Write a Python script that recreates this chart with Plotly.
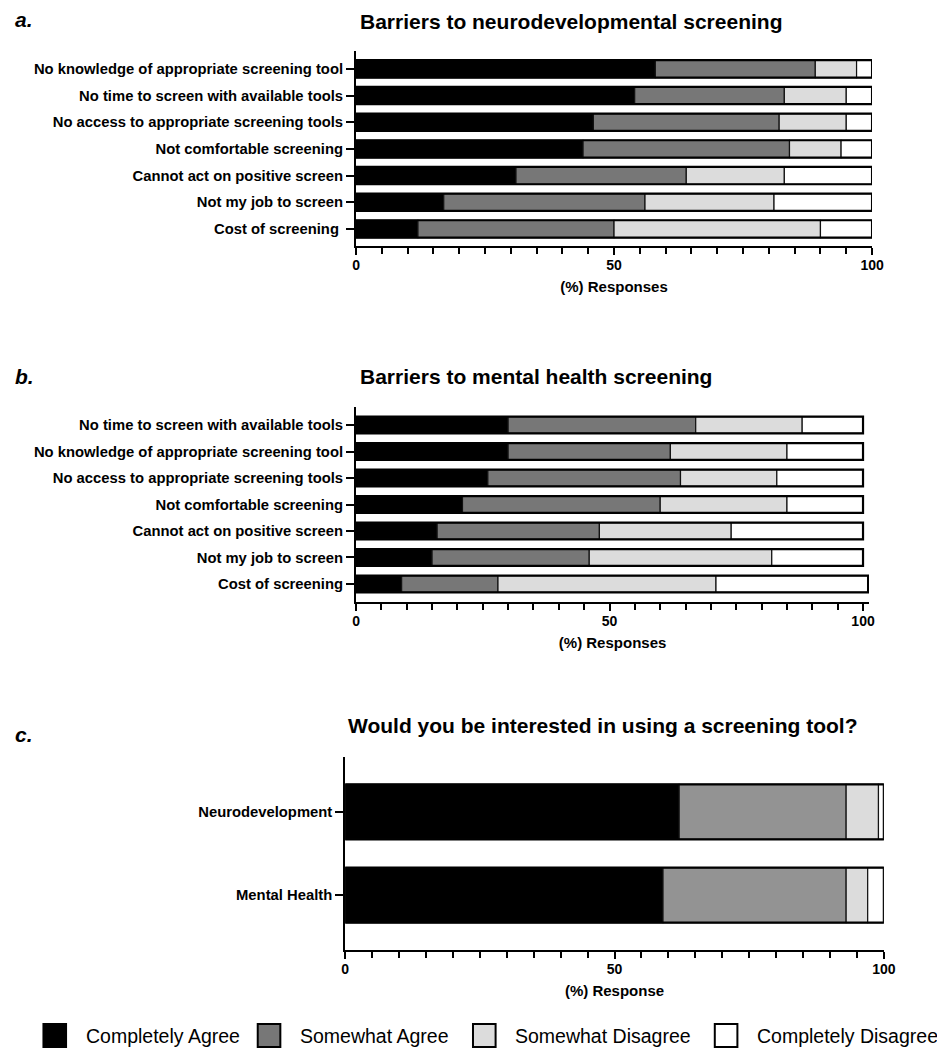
import plotly.graph_objects as go

# page has an 8px body margin; figure sized to fit the 945x1050 window
OFF = 8
W, H = 945 - OFF, 1050 - OFF

series_names = ["Completely Agree", "Somewhat Agree", "Somewhat Disagree", "Completely Disagree"]

a_cats = ["No knowledge of appropriate screening tool", "No time to screen with available tools",
          "No access to appropriate screening tools", "Not comfortable screening",
          "Cannot act on positive screen", "Not my job to screen", "Cost of screening "]
a_completely_agree = [58, 54, 46, 44, 31, 17, 12]
a_somewhat_agree = [31, 29, 36, 40, 33, 39, 38]
a_somewhat_disagree = [8, 12, 13, 10, 19, 25, 40]
a_completely_disagree = [3, 5, 5, 6, 17, 19, 10]

b_cats = ["No time to screen with available tools", "No knowledge of appropriate screening tool",
          "No access to appropriate screening tools", "Not comfortable screening",
          "Cannot act on positive screen", "Not my job to screen", "Cost of screening"]
b_completely_agree = [30, 30, 26, 21, 16, 15, 9]
b_somewhat_agree = [37, 32, 38, 39, 32, 31, 19]
b_somewhat_disagree = [21, 23, 19, 25, 26, 36, 43]
b_completely_disagree = [12, 15, 17, 15, 26, 18, 30]

c_cats = ["Neurodevelopment", "Mental Health"]
c_completely_agree = [62, 59]
c_somewhat_agree = [31, 34]
c_somewhat_disagree = [6, 4]
c_completely_disagree = [1, 3]

x_ticks = [0, 50, 100]

colors_ab = ["#000000", "#777777", "#dcdcdc", "#ffffff"]
colors_c = ["#000000", "#939393", "#dcdcdc", "#ffffff"]

FONT = "Liberation Sans, Arial, sans-serif"

fig = go.Figure()


def add_panel(cats, series, colors, xa, ya, width):
    n = len(cats)
    cum = [0] * n
    for name, vals, col in zip(series_names, series, colors):
        fig.add_trace(go.Bar(
            y=cats, x=vals, base=list(cum), orientation="h", name=name,
            marker=dict(color=col, line=dict(color="#111111", width=1.2)),
            width=width, xaxis=xa, yaxis=ya, showlegend=False,
        ))
        cum = [c + v for c, v in zip(cum, vals)]
    # outer outline of each stacked bar
    fig.add_trace(go.Bar(
        y=cats, x=cum, base=[0] * n, orientation="h",
        marker=dict(color="rgba(0,0,0,0)", line=dict(color="#000000", width=2.2)),
        width=width, xaxis=xa, yaxis=ya, showlegend=False, hoverinfo="skip",
    ))


add_panel(a_cats, [a_completely_agree, a_somewhat_agree, a_somewhat_disagree, a_completely_disagree],
          colors_ab, "x", "y", 0.65)
add_panel(b_cats, [b_completely_agree, b_somewhat_agree, b_somewhat_disagree, b_completely_disagree],
          colors_ab, "x2", "y2", 0.63)
add_panel(c_cats, [c_completely_agree, c_somewhat_agree, c_somewhat_disagree, c_completely_disagree],
          colors_c, "x3", "y3", 0.66)


def px_x(p):
    return (p - OFF) / W


def px_y(p):
    return 1 - (p - OFF) / H


def xaxis_cfg(x0, x1, rng, title, anchor):
    return dict(
        domain=[px_x(x0), px_x(x1)], range=rng, anchor=anchor,
        tickvals=x_ticks, ticktext=["<b>%d</b>" % t for t in x_ticks],
        ticks="outside", ticklen=7, tickwidth=1.8, tickcolor="black",
        ticklabelstandoff=-2,
        minor=dict(dtick=5, ticks="outside", ticklen=6, tickwidth=1.5, tickcolor="black"),
        showline=True, linecolor="black", linewidth=2, showgrid=False, zeroline=False,
        tickfont=dict(family=FONT, size=14, color="black"),
        title=dict(text="<b>" + title + "</b>", font=dict(family=FONT, size=15, color="black"), standoff=10),
        fixedrange=True,
    )


def yaxis_cfg(y_top, y_bot, rng, anchor):
    return dict(
        domain=[px_y(y_bot), px_y(y_top)], range=rng, type="category", anchor=anchor,
        ticks="outside", ticklen=8, tickwidth=1.8, tickcolor="black",
        showline=True, linecolor="black", linewidth=2, showgrid=False, zeroline=False,
        tickfont=dict(family=FONT, size=14.8, color="black"),
        tickprefix="<b>", ticksuffix="</b>",
        fixedrange=True,
    )


fig.update_layout(
    width=W, height=H, margin=dict(l=0, r=0, t=0, b=0),
    paper_bgcolor="white", plot_bgcolor="white",
    barmode="overlay", showlegend=False,
    xaxis=xaxis_cfg(358, 883, [0, 100], "(%) Responses", "y"),
    yaxis=yaxis_cfg(51, 246, [6.64, -0.67], "x"),
    xaxis2=xaxis_cfg(358, 880, [0, 101.2], "(%) Responses", "y2"),
    yaxis2=yaxis_cfg(407, 602, [6.68, -0.68], "x2"),
    xaxis3=xaxis_cfg(347, 895, [0, 100], "(%) Response", "y3"),
    yaxis3=yaxis_cfg(757, 950, [1.66, -0.66], "x3"),
    font=dict(family=FONT, color="black"),
)

annotations = []
# panel letters
for letter, ypx in [("a.", 20), ("b.", 377), ("c.", 734)]:
    annotations.append(dict(text="<b><i>" + letter + "</i></b>", x=px_x(OFF + 1), y=px_y(ypx),
                            xref="paper", yref="paper", xanchor="left", yanchor="middle",
                            showarrow=False, font=dict(family=FONT, size=21, color="black")))
# titles
for text, xpx, ypx in [("Barriers to neurodevelopmental screening", 577, 21),
                       ("Barriers to mental health screening", 541, 377),
                       ("Would you be interested in using a screening tool?", 609, 725)]:
    annotations.append(dict(text="<b>" + text + "</b>", x=px_x(xpx), y=px_y(ypx),
                            xref="paper", yref="paper", xanchor="center", yanchor="middle",
                            showarrow=False, font=dict(family=FONT, size=21, color="black")))

# legend (manual, large swatches)
legend_x = [40, 258, 477, 723]
shapes = []
for name, col, lx in zip(series_names, colors_ab, legend_x):
    shapes.append(dict(type="rect", xref="paper", yref="paper",
                       x0=px_x(lx), x1=px_x(lx + 23), y0=px_y(1047), y1=px_y(1024),
                       fillcolor=col, line=dict(color="black", width=2)))
    annotations.append(dict(text=name, x=px_x(lx + 41), y=px_y(1036), xref="paper", yref="paper",
                            xanchor="left", yanchor="middle", showarrow=False,
                            font=dict(family=FONT, size=19.5, color="black")))

fig.update_layout(annotations=annotations, shapes=shapes)

fig.write_html("out.html")
